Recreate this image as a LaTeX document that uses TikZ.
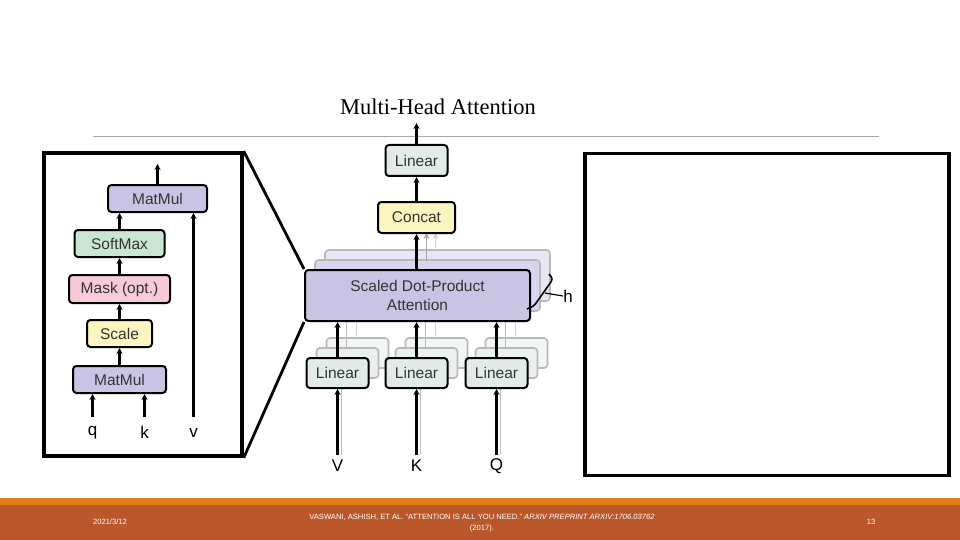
\documentclass[tikz,border=0pt]{standalone}
\usepackage{fontspec}
\setmainfont{Liberation Serif}
\setsansfont{Liberation Sans}
\usetikzlibrary{arrows.meta}
\definecolor{lav}{HTML}{C9C4E4}
\definecolor{lavb}{HTML}{D9D5EE}
\definecolor{lavc}{HTML}{E8E5F4}
\definecolor{lin}{HTML}{E3EBE9}
\definecolor{yel}{HTML}{FBF5C0}
\definecolor{grn}{HTML}{C8E6D1}
\definecolor{pnk}{HTML}{F6C9DB}
\definecolor{stripe}{HTML}{E07F1A}
\definecolor{band}{HTML}{BA572B}
\tikzset{
  blk/.style={draw=black, line width=2pt, rounded corners=3.5pt, inner sep=0pt,
     font=\sffamily\fontsize{15.5}{15.5}\selectfont, text=black!80},
  ghost/.style={draw=gray!55, line width=1.6pt, rounded corners=3.5pt, inner sep=0pt},
  arr/.style={line width=2.2pt, -{Stealth[length=6pt,width=6pt]}},
  zoomln/.style={line width=2.8pt},
  frame/.style={draw=black, line width=3.5pt},
  lbl/.style={font=\sffamily\fontsize{17}{17}\selectfont, inner sep=0pt},
  foot/.style={font=\sffamily\fontsize{7.6}{10.5}\selectfont, text=white, align=center, inner sep=0pt},
}
\begin{document}
\begin{tikzpicture}[x=1pt,y=-1pt]
\useasboundingbox (0,0) rectangle (960,540);
\fill[white] (0,0) rectangle (960,540);
% footer
\fill[stripe] (0,498) rectangle (960,505);
\fill[band] (0,505) rectangle (960,540);
\node[foot] (date) at (110,522) {2021/3/12};
\node[foot] (cite) at (482,523) {VASWANI, ASHISH, ET AL. ``ATTENTION IS ALL YOU NEED.'' \textit{ARXIV PREPRINT ARXIV:1706.03762}\\(2017).};
\node[foot] (page) at (871,522) {13};
% title and rule
\node[font=\fontsize{22.5}{22.5}\selectfont, inner sep=0pt] (title) at (438,107) {Multi-Head Attention};
\draw[gray!70, line width=0.8pt] (93,136) -- (879,136);
% frames
\node[frame, minimum width=198pt, minimum height=303pt, inner sep=0pt] (lbox) at (143,304.5) {};
\node[frame, minimum width=364pt, minimum height=322pt, inner sep=0pt] (rbox) at (767,314.5) {};

% ---------- left: scaled dot-product attention ----------
\node[blk, fill=lav, minimum width=99pt, minimum height=27pt] (mm2) at (157.5,198.5) {MatMul};
\node[blk, fill=grn, minimum width=90pt, minimum height=27pt] (sm) at (119.5,243.5) {SoftMax};
\node[blk, fill=pnk, minimum width=101pt, minimum height=28pt] (mask) at (119.5,289) {Mask (opt.)};
\node[blk, fill=yel, minimum width=65pt, minimum height=27pt] (scale) at (119.5,333.5) {Scale};
\node[blk, fill=lav, minimum width=93pt, minimum height=27pt] (mm1) at (119.5,379.5) {MatMul};
\coordinate (mmout) at (157.5,164);
\coordinate (qs) at (92.5,417);
\coordinate (ks) at (144.5,417);
\coordinate (vs) at (193.5,417);
\node[lbl] (ql) at (92.5,433) {q};
\node[lbl] (kl) at (144.5,432) {k};
\node[lbl] (vl) at (193.5,433) {v};
\draw[arr] (mm2.north) -- (mmout);
\draw[arr] (sm.north) -- (sm.north |- mm2.south);
\draw[arr] (mask.north) -- (sm.south);
\draw[arr] (scale.north) -- (mask.south);
\draw[arr] (mm1.north) -- (scale.south);
\draw[arr] (qs) -- (qs |- mm1.south);
\draw[arr] (ks) -- (ks |- mm1.south);
\draw[arr] (vs) -- (vs |- mm2.south);

% ---------- centre: multi-head attention ----------
% ghost stacks
\node[ghost, fill=lavc, minimum width=225pt, minimum height=51pt] (sd3) at (437.5,275.5) {};
\node[ghost, fill=lavb, minimum width=225pt, minimum height=51pt] (sd2) at (427.5,285.5) {};
\foreach \x/\n in {337.5/v,416.5/k,496.5/q}{
  \node[ghost, fill=lin!50, minimum width=62pt, minimum height=30pt] (g3\n) at (\x+20,353) {};
  \node[ghost, fill=lin!75, minimum width=62pt, minimum height=30pt] (g2\n) at (\x+10,363) {};
}
% ghost connectors
\foreach \x in {337.5,416.5,496.5}{
  \draw[line width=1.6pt, gray!35] (\x+19,338) -- (\x+19,311);
  \draw[line width=1.6pt, gray!55] (\x+9,348) -- (\x+9,321);
  \draw[line width=1.6pt, gray!50] (\x+4,455) -- (\x+4,388);
}
\draw[line width=1.8pt, gray!35, -{Stealth[length=6pt,width=6pt]}] (435.5,250) -- (435.5,233);
\draw[line width=1.8pt, gray!70, -{Stealth[length=6pt,width=6pt]}] (426.5,260) -- (426.5,233);
% main boxes
\node[blk, fill=lav, minimum width=225pt, minimum height=51pt, align=center,
      font=\sffamily\fontsize{15.5}{19.5}\selectfont] (sdpa) at (417.5,295.5) {Scaled Dot-Product\\Attention};
\node[blk, fill=lin, minimum width=62pt, minimum height=30pt] (linv) at (337.5,373) {Linear};
\node[blk, fill=lin, minimum width=62pt, minimum height=30pt] (link) at (416.5,373) {Linear};
\node[blk, fill=lin, minimum width=62pt, minimum height=30pt] (linq) at (496.5,373) {Linear};
\node[blk, fill=yel, minimum width=77pt, minimum height=31pt] (concat) at (416.5,217.5) {Concat};
\node[blk, fill=lin, minimum width=62pt, minimum height=31pt] (lint) at (416.5,160.5) {Linear};
\coordinate (out) at (416.5,123);
\coordinate (vin) at (337.5,455);
\coordinate (kin) at (416.5,455);
\coordinate (qin) at (496.5,455);
\node[lbl] (vlab) at (337.5,466) {V};
\node[lbl] (klab) at (416.5,466) {K};
\node[lbl] (qlab) at (496.5,466) {Q};
\draw[arr] (lint.north) -- (out);
\draw[arr] (concat.north) -- (lint.south);
\draw[arr] (sdpa.north -| concat.south) -- (concat.south);
\draw[arr] (linv.north) -- (linv.north |- sdpa.south);
\draw[arr] (link.north) -- (link.north |- sdpa.south);
\draw[arr] (linq.north) -- (linq.north |- sdpa.south);
\draw[arr] (vin) -- (linv.south);
\draw[arr] (kin) -- (link.south);
\draw[arr] (qin) -- (linq.south);
% h brace
\coordinate (hb1) at (549,274);
\coordinate (hb2) at (527,309);
\draw[line width=1.6pt, rounded corners=3pt] (hb1) -- (553,279) -- (534,306) -- (hb2);
\node[lbl] (h) at (568,296) {h};
\draw[line width=1.2pt] (545,293) -- (h.west);
% zoom lines
\draw[zoomln] (lbox.north east) -- (sdpa.north west);
\draw[zoomln] (lbox.south east) -- (sdpa.south west);
\end{tikzpicture}
\end{document}
